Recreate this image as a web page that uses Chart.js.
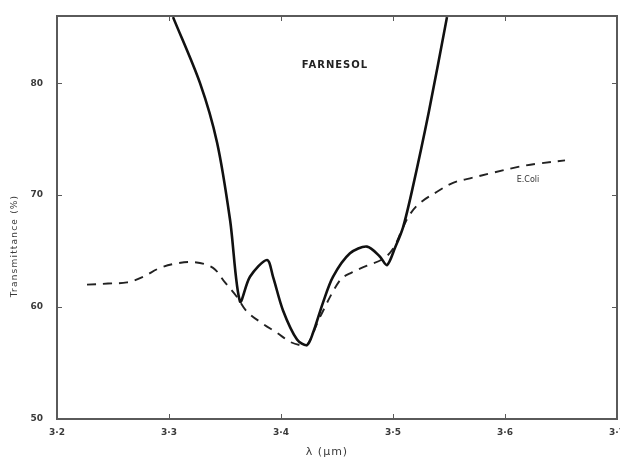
<!DOCTYPE html>
<html><head><meta charset="utf-8">
<script src="https://cdn.jsdelivr.net/npm/chart.js@4/dist/chart.umd.min.js"></script>
<style>html,body{margin:0;padding:0;background:#fff}#w{width:620px;height:459px}</style>
</head><body><div id="w"><canvas id="c" width="620" height="459"></canvas></div>
<script>
const xTickValues = [3.2, 3.3, 3.4, 3.5, 3.6, 3.7];
const xTickLabels = ['3·2', '3·3', '3·4', '3·5', '3·6', '3·7'];
const yTickValues = [50, 60, 70, 80];
const yTickLabels = ['50', '60', '70', '80'];

const lambdaFarnesol = [3.3036, 3.3277, 3.3429, 3.3545, 3.3634, 3.3723, 3.3875, 3.3929, 3.4018, 3.4143, 3.4232, 3.4286, 3.4375, 3.4464, 3.4616, 3.4768, 3.4884, 3.4946, 3.5018, 3.5089, 3.517, 3.5321, 3.5482];
const transFarnesol  = [85.9, 80.0, 74.7, 67.8, 60.5, 62.7, 64.2, 62.7, 59.7, 57.1, 56.6, 57.7, 60.4, 62.7, 64.8, 65.4, 64.5, 63.75, 65.3, 67.1, 70.4, 77.5, 85.9];

const lambdaEcoli = [3.2268, 3.2455, 3.2625, 3.2768, 3.292, 3.3071, 3.3232, 3.3393, 3.35, 3.3607, 3.3696, 3.3839, 3.3964, 3.408, 3.417, 3.4232, 3.4348, 3.4527, 3.4634, 3.4768, 3.4911, 3.5, 3.5089, 3.5152, 3.5241, 3.5393, 3.5536, 3.5688, 3.5893, 3.6107, 3.6286, 3.6536];
const transEcoli  = [62.0, 62.1, 62.2, 62.7, 63.5, 63.9, 64.0, 63.5, 62.2, 60.9, 59.6, 58.5, 57.7, 56.9, 56.6, 56.6, 59.1, 62.4, 63.1, 63.7, 64.3, 65.2, 67.1, 68.3, 69.3, 70.3, 71.1, 71.5, 72.0, 72.5, 72.8, 73.1];

const toPts = (xs, ys) => xs.map((x, i) => ({x: x, y: ys[i]}));

const frameColor = '#5a5a5a';
const textColor = '#3a3a3a';

const decor = {
  id: 'decor',
  afterDraw(chart) {
    const {ctx, chartArea: a, scales: {x, y}} = chart;
    ctx.save();
    ctx.strokeStyle = frameColor;
    ctx.lineWidth = 2;
    ctx.strokeRect(a.left, a.top, a.right - a.left, a.bottom - a.top);
    ctx.lineWidth = 1;
    xTickValues.forEach(v => {
      const px = Math.round(x.getPixelForValue(v)) + 0.5;
      ctx.beginPath(); ctx.moveTo(px, a.bottom); ctx.lineTo(px, a.bottom - 5); ctx.stroke();
      ctx.beginPath(); ctx.moveTo(px, a.top); ctx.lineTo(px, a.top + 5); ctx.stroke();
    });
    yTickValues.forEach(v => {
      const py = Math.round(y.getPixelForValue(v)) + 0.5;
      ctx.beginPath(); ctx.moveTo(a.left, py); ctx.lineTo(a.left + 5, py); ctx.stroke();
      ctx.beginPath(); ctx.moveTo(a.right, py); ctx.lineTo(a.right - 5, py); ctx.stroke();
    });
    ctx.fillStyle = '#222';
    ctx.font = 'bold 10px "DejaVu Sans"';
    ctx.textAlign = 'center'; ctx.textBaseline = 'middle';
    ctx.letterSpacing = '1px';
    ctx.fillText('FARNESOL', 335, 65);
    ctx.letterSpacing = '0px';
    ctx.font = '8px "DejaVu Sans"';
    ctx.fillStyle = '#333';
    ctx.fillText('E.Coli', 528, 180);
    ctx.fillStyle = textColor;
    ctx.font = '11px "DejaVu Sans"';
    ctx.letterSpacing = '1px';
    ctx.fillText('λ (μm)', 327, 452);
    ctx.translate(15, 246);
    ctx.rotate(-Math.PI / 2);
    ctx.font = '9px "DejaVu Sans"';
    ctx.letterSpacing = '1.2px';
    ctx.fillText('Transmittance (%)', 0, 0);
    ctx.restore();
  }
};

new Chart(document.getElementById('c'), {
  type: 'line',
  data: {
    datasets: [
      {
        label: 'Farnesol',
        data: toPts(lambdaFarnesol, transFarnesol),
        borderColor: '#111', borderWidth: 2.6, pointRadius: 0,
        tension: 0.3, fill: false
      },
      {
        label: 'E.Coli',
        data: toPts(lambdaEcoli, transEcoli),
        borderColor: '#222', borderWidth: 1.9, borderDash: [9, 7], pointRadius: 0,
        tension: 0.35, fill: false
      }
    ]
  },
  options: {
    responsive: false, animation: false,
    layout: {padding: {top: 16, right: 3, left: 0, bottom: 0}},
    plugins: {legend: {display: false}, tooltip: {enabled: false}},
    scales: {
      x: {
        type: 'linear', min: 3.2, max: 3.7,
        afterBuildTicks(s) { s.ticks = xTickValues.map(v => ({value: v})); },
        afterFit(s) { s.height = 40; s.paddingLeft = 0; s.paddingRight = 0; },
        grid: {display: false, drawTicks: false},
        border: {display: false},
        ticks: {
          padding: 8, color: textColor, font: {family: 'DejaVu Sans', size: 9, weight: 'bold'},
          maxRotation: 0, autoSkip: false,
          callback: (v) => { const i = xTickValues.findIndex(t => Math.abs(t - v) < 1e-6); return i >= 0 ? xTickLabels[i] : ''; }
        }
      },
      y: {
        type: 'linear', min: 50, max: 86,
        afterBuildTicks(s) { s.ticks = yTickValues.map(v => ({value: v})); },
        afterFit(s) { s.width = 57; s.paddingTop = 0; s.paddingBottom = 0; },
        grid: {display: false, drawTicks: false},
        border: {display: false},
        ticks: {
          padding: 14, color: textColor, font: {family: 'DejaVu Sans', size: 9, weight: 'bold'},
          callback: (v) => { const i = yTickValues.indexOf(v); return i >= 0 ? yTickLabels[i] : ''; }
        }
      }
    }
  },
  plugins: [decor]
});
</script></body></html>
